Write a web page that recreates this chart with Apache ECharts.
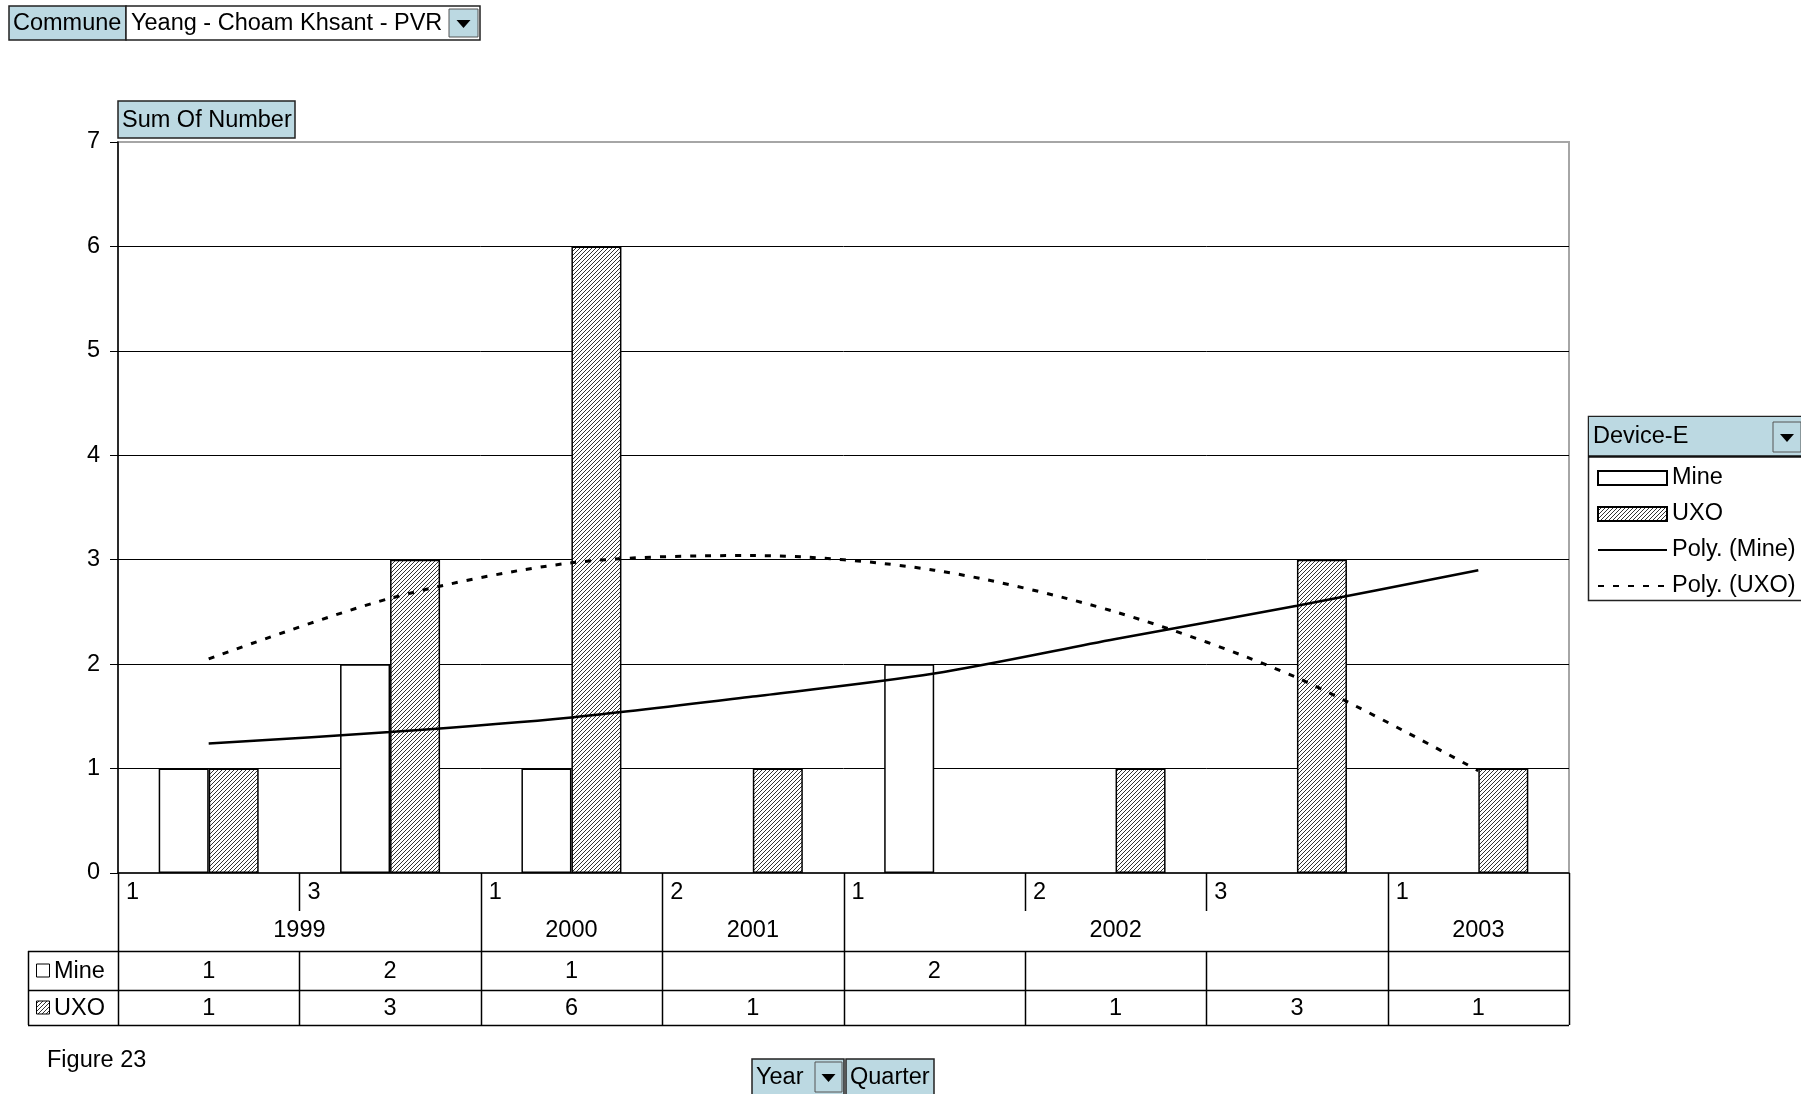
<!DOCTYPE html>
<html>
<head>
<meta charset="utf-8">
<script src="https://cdn.jsdelivr.net/npm/echarts@6/dist/echarts.min.js"></script>
<style>
  html, body { margin: 0; padding: 0; background: #ffffff; }
  #chart { width: 1801px; height: 1094px; }
</style>
</head>
<body>
<div id="chart"></div>
<script>
// Pivot data: one entry per (Year, Quarter) that has records
const years = ['1999', '1999', '2000', '2001', '2002', '2002', '2002', '2003'];
const quarters = ['1', '3', '1', '2', '1', '2', '3', '1'];
const mineCounts = [1, 2, 1, null, 2, null, null, null];
const uxoCounts = [1, 3, 6, 1, null, 1, 3, 1];
// Order-2 polynomial trendlines, read at each category
const mineTrend = [1.24, 1.35, 1.49, 1.69, 1.91, 2.24, 2.56, 2.90];
const uxoTrend = [2.05, 2.63, 2.97, 3.04, 2.90, 2.50, 1.87, 0.98];
const yTicks = [0, 1, 2, 3, 4, 5, 6, 7];

const categories = years.map((y, i) => y + ' Q' + quarters[i]);
const FONT = '"Liberation Sans", Arial, sans-serif';
const FS = 23.5;
const BTN = '#bcd9e2';

// diagonal hatch tile for the UXO bars
function hatchTile() {
  const c = document.createElement('canvas');
  c.width = 4; c.height = 4;
  const ctx = c.getContext('2d');
  ctx.fillStyle = '#ffffff';
  ctx.fillRect(0, 0, 4, 4);
  ctx.fillStyle = '#333333';
  for (let x = 0; x < 4; x++) ctx.fillRect(x, 3 - x, 1, 1);
  return c;
}
const hatch = { image: hatchTile(), repeat: 'repeat' };
const noMarker = { color: 'rgba(0,0,0,0)', borderWidth: 0 };

const chart = echarts.init(document.getElementById('chart'), null, { renderer: 'canvas' });

const option = {
  animation: false,
  backgroundColor: '#ffffff',
  color: ['#000000', '#000000', '#000000', '#000000'],
  textStyle: { fontFamily: FONT, color: '#000' },
  grid: {
    left: 118, right: 232, top: 142, bottom: 221,
    show: true, borderColor: '#a6a6a6', borderWidth: 2, backgroundColor: '#ffffff'
  },
  legend: {
    orient: 'vertical',
    left: 1597, top: 466,
    padding: 0,
    z: 40,
    itemWidth: 69, itemHeight: 14, itemGap: 12,
    textStyle: { fontFamily: FONT, fontSize: FS, color: '#000' },
    selectedMode: false,
    data: [
      { name: 'Mine', icon: 'rect' },
      { name: 'UXO', icon: 'rect' },
      { name: 'Poly. (Mine)', itemStyle: noMarker },
      { name: 'Poly. (UXO)', itemStyle: noMarker }
    ]
  },
  xAxis: {
    type: 'category',
    data: categories,
    boundaryGap: true,
    axisLine: { lineStyle: { color: '#000', width: 1.5 } },
    axisTick: { show: false },
    axisLabel: { show: false },
    splitLine: { show: false }
  },
  yAxis: {
    type: 'value',
    min: yTicks[0], max: yTicks[yTicks.length - 1], interval: 1,
    axisLine: { show: true, lineStyle: { color: '#000', width: 1.5 } },
    axisTick: { show: true, length: 8, lineStyle: { color: '#000', width: 1 } },
    axisLabel: { margin: 18, fontFamily: FONT, fontSize: FS, color: '#000' },
    splitLine: { show: true, showMinLine: false, showMaxLine: false, lineStyle: { color: '#000', width: 1 } }
  },
  series: [
    {
      name: 'Mine', type: 'bar', data: mineCounts,
      barWidth: 50, barGap: '0%',
      itemStyle: { color: '#ffffff', borderColor: '#000', borderWidth: 1.5 }
    },
    {
      name: 'UXO', type: 'bar', data: uxoCounts,
      barWidth: 50, barGap: '0%',
      itemStyle: { color: hatch, borderColor: '#000', borderWidth: 1.5 }
    },
    {
      name: 'Poly. (Mine)', type: 'line', data: mineTrend,
      smooth: 0.3, symbol: 'none', z: 5,
      itemStyle: { color: '#000' },
      lineStyle: { color: '#000', width: 2.5 }
    },
    {
      name: 'Poly. (UXO)', type: 'line', data: uxoTrend,
      smooth: 0.3, symbol: 'none', z: 5,
      itemStyle: { color: '#000' },
      lineStyle: { color: '#000', width: 3, type: [6, 9] }
    }
  ]
};
chart.setOption(option);

// ---- pivot buttons, category axis rows and data table ----
const g = [];
const txt = (x, y, s, align, extra) => g.push(Object.assign({
  type: 'text', x: x, y: y, z: 20,
  style: Object.assign({ text: s, fontFamily: FONT, fontSize: FS, fill: '#000',
    align: align || 'left', verticalAlign: 'middle' }, extra || {})
}));
const line = (x1, y1, x2, y2, w, col) => g.push({
  type: 'line', z: 20,
  shape: { x1: x1, y1: y1, x2: x2, y2: y2 },
  style: { stroke: col || '#000', lineWidth: w || 1 }
});
const rect = (x, y, w, h, fill, stroke, lw) => g.push({
  type: 'rect', z: 19,
  shape: { x: x, y: y, width: w, height: h },
  style: { fill: fill, stroke: stroke || null, lineWidth: lw || 1 }
});
const arrowBtn = (x, y, w, h) => {
  rect(x, y, w, h, BTN, '#555', 1);
  const cx = x + w / 2, cy = y + h / 2 + 1;
  g.push({ type: 'polygon', z: 21,
    shape: { points: [[cx - 7, cy - 4], [cx + 7, cy - 4], [cx, cy + 4]] },
    style: { fill: '#000' } });
};
const button = (x, y, w, h, label) => {
  rect(x, y, w, h, BTN, '#222', 1.5);
  txt(x + 4, y + h / 2 + 1, label);
};

// page field
button(9, 6, 117, 34, 'Commune');
rect(126, 6, 354, 34, '#ffffff', '#222', 1.5);
txt(131, 24, 'Yeang - Choam Khsant - PVR');
arrowBtn(449, 9, 29, 28);

// data field
button(118, 101, 177, 37, 'Sum Of Number');

// series field / legend frame
rect(1588.5, 416.5, 230, 184, '#ffffff', '#222', 1.5);
rect(1589, 417, 230, 39, BTN, null);
line(1588, 456.5, 1801, 456.5, 2.5, '#111');
txt(1593, 437, 'Device-E');
arrowBtn(1773, 422, 28, 30);

// row fields
button(752, 1059, 92, 36, 'Year');
arrowBtn(815, 1062, 27, 30);
button(846, 1059, 88, 36, 'Quarter');

txt(47, 1061, 'Figure 23');

// category axis + data table built from the axis scale
const n = categories.length;
const c0 = chart.convertToPixel({ xAxisIndex: 0 }, 0);
const c1 = chart.convertToPixel({ xAxisIndex: 0 }, 1);
const band = c1 - c0;
const left = c0 - band / 2;
const right = left + band * n;
const base = Math.round(chart.convertToPixel({ yAxisIndex: 0 }, 0));
const rowTop = base + 78, rowMid = base + 117, rowBot = base + 152;
const tableLeft = 28;
const px = v => Math.round(v) + 0.5;

for (let k = 0; k <= n; k++) {
  const x = px(left + k * band);
  const yearEdge = k === 0 || k === n || years[k - 1] !== years[k];
  if (yearEdge) {
    line(x, base, x, rowBot, 1.5);
  } else {
    line(x, base, x, base + 38, 1.5);
    line(x, rowTop, x, rowBot, 1.5);
  }
  if (k < n) txt(left + k * band + 8, base + 20, quarters[k]);
}
// year labels centred on their quarter span
let start = 0;
for (let k = 1; k <= n; k++) {
  if (k === n || years[k] !== years[start]) {
    txt(left + (start + k) / 2 * band, base + 58, years[start], 'center');
    start = k;
  }
}
line(tableLeft, rowTop + 0.5, right, rowTop + 0.5, 1.5);
line(tableLeft, rowMid + 0.5, right, rowMid + 0.5, 1.5);
line(tableLeft, rowBot + 0.5, right, rowBot + 0.5, 1.5);
line(tableLeft + 0.5, rowTop, tableLeft + 0.5, rowBot, 1.5);

// legend keys inside the table
rect(36.5, (rowTop + rowMid) / 2 - 6.5, 13, 13, '#ffffff', '#000', 1);
txt(54, (rowTop + rowMid) / 2 + 1, 'Mine');
rect(36.5, (rowMid + rowBot) / 2 - 6.5, 13, 13, hatch, '#000', 1);
txt(54, (rowMid + rowBot) / 2 + 1, 'UXO');

for (let i = 0; i < n; i++) {
  const cx = left + (i + 0.5) * band;
  if (mineCounts[i] != null) txt(cx, (rowTop + rowMid) / 2 + 1, String(mineCounts[i]), 'center');
  if (uxoCounts[i] != null) txt(cx, (rowMid + rowBot) / 2 + 1, String(uxoCounts[i]), 'center');
}

chart.setOption({ graphic: { elements: g } });
</script>
</body>
</html>
